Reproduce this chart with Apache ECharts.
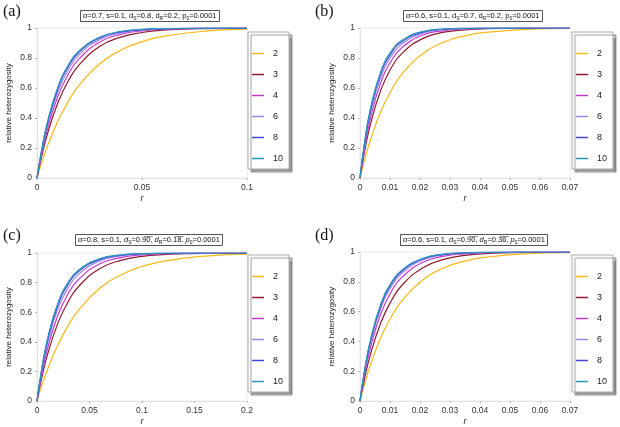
<!DOCTYPE html>
<html>
<head>
<meta charset="utf-8">
<title>relative heterozygosity</title>
<script src="https://cdn.jsdelivr.net/npm/echarts@6/dist/echarts.min.js"></script>
<style>
  html, body { margin: 0; padding: 0; background: #fff; }
  #main { width: 620px; height: 427px; }
</style>
</head>
<body>
<div id="main"></div>
<script>
// legend values of m (one curve each)
var mValues = ['2', '3', '4', '6', '8', '10'];
var mColors = ['#f7b918', '#8c1c30', '#c23ac8', '#9a86ee', '#4446dc', '#2c96b8'];

// sampled r positions for each panel
var rA = [0, 0.002, 0.005, 0.01, 0.015, 0.02, 0.03, 0.04, 0.05, 0.06, 0.08, 0.1];
var rB = [0, 0.0014, 0.0035, 0.007, 0.0105, 0.014, 0.021, 0.028, 0.035, 0.042, 0.056, 0.07];
var rC = [0, 0.004, 0.01, 0.02, 0.03, 0.04, 0.06, 0.08, 0.1, 0.12, 0.16, 0.2];
var rD = [0, 0.0014, 0.0035, 0.007, 0.0105, 0.014, 0.021, 0.028, 0.035, 0.042, 0.056, 0.07];

// relative heterozygosity, one row per m
var hA = [
  [0, 0.092, 0.213, 0.381, 0.513, 0.617, 0.763, 0.853, 0.909, 0.944, 0.979, 0.992],
  [0, 0.131, 0.295, 0.503, 0.650, 0.753, 0.878, 0.939, 0.970, 0.985, 0.996, 0.999],
  [0, 0.146, 0.326, 0.546, 0.694, 0.794, 0.907, 0.958, 0.981, 0.991, 0.998, 1],
  [0, 0.158, 0.349, 0.577, 0.725, 0.821, 0.924, 0.968, 0.986, 0.994, 0.999, 1],
  [0, 0.166, 0.366, 0.597, 0.745, 0.838, 0.935, 0.974, 0.989, 0.996, 0.999, 1],
  [0, 0.171, 0.375, 0.609, 0.756, 0.847, 0.940, 0.977, 0.991, 0.996, 0.999, 1]
];
var hB = [
  [0, 0.111, 0.255, 0.446, 0.587, 0.693, 0.830, 0.906, 0.948, 0.971, 0.991, 0.997],
  [0, 0.163, 0.359, 0.589, 0.737, 0.831, 0.931, 0.972, 0.988, 0.995, 0.999, 1],
  [0, 0.185, 0.400, 0.639, 0.783, 0.870, 0.953, 0.983, 0.994, 0.998, 1, 1],
  [0, 0.201, 0.429, 0.674, 0.814, 0.894, 0.965, 0.989, 0.996, 0.999, 1, 1],
  [0, 0.213, 0.451, 0.699, 0.835, 0.909, 0.973, 0.992, 0.998, 0.999, 1, 1],
  [0, 0.221, 0.465, 0.713, 0.847, 0.918, 0.977, 0.993, 0.998, 0.999, 1, 1]
];
var hC = [
  [0, 0.092, 0.213, 0.381, 0.513, 0.617, 0.763, 0.853, 0.909, 0.944, 0.979, 0.992],
  [0, 0.139, 0.313, 0.528, 0.675, 0.777, 0.895, 0.950, 0.977, 0.989, 0.998, 0.999],
  [0, 0.160, 0.353, 0.581, 0.729, 0.824, 0.927, 0.969, 0.987, 0.995, 0.999, 1],
  [0, 0.178, 0.387, 0.625, 0.770, 0.859, 0.947, 0.980, 0.993, 0.997, 1, 1],
  [0, 0.189, 0.408, 0.650, 0.793, 0.878, 0.957, 0.985, 0.995, 0.998, 1, 1],
  [0, 0.196, 0.420, 0.664, 0.805, 0.887, 0.962, 0.987, 0.996, 0.999, 1, 1]
];
var hD = [
  [0, 0.106, 0.244, 0.429, 0.568, 0.674, 0.814, 0.894, 0.939, 0.965, 0.989, 0.996],
  [0, 0.139, 0.313, 0.528, 0.675, 0.777, 0.895, 0.950, 0.977, 0.989, 0.998, 0.999],
  [0, 0.163, 0.359, 0.589, 0.737, 0.831, 0.931, 0.972, 0.988, 0.995, 0.999, 1],
  [0, 0.178, 0.387, 0.625, 0.770, 0.859, 0.947, 0.980, 0.993, 0.997, 1, 1],
  [0, 0.186, 0.402, 0.643, 0.787, 0.873, 0.955, 0.984, 0.994, 0.998, 1, 1],
  [0, 0.191, 0.411, 0.654, 0.796, 0.880, 0.958, 0.986, 0.995, 0.998, 1, 1]
];

var xMax = [0.1, 0.07, 0.2, 0.07];
var xStep = [0.05, 0.01, 0.05, 0.01];
var rs = [rA, rB, rC, rD];
var hs = [hA, hB, hC, hD];

// layout of the four panels
var grids = [
  { left: 37, top: 28, width: 210, height: 150 },
  { left: 360, top: 28, width: 210, height: 150 },
  { left: 37, top: 253, width: 210, height: 149 },
  { left: 360, top: 252, width: 210, height: 150 }
];
var legendPos = [[248, 32], [572, 32], [248, 255], [572, 255]];
var labelPos = [[3, 4], [315, 4], [3, 228], [315, 228]];
var boxPos = [[80, 10], [403, 10], [75, 234], [400, 234]];
var panelNames = ['(a)', '(b)', '(c)', '(d)'];
var paramTexts = [
  '{g|α}=0.7, s=0.1, d{s|S}=0.8, d{s|R}=0.2, p{s|0}=0.0001',
  '{g|α}=0.6, s=0.1, d{s|S}=0.7, d{s|R}=0.2, p{s|0}=0.0001',
  '{g|α}=0.8, s=0.1, {g|d}{s|S}=0.9\u03050\u0305, {g|d}{s|R}=0.1\u03058\u0305, {g|p}{s|0}=0.0001',
  '{g|α}=0.6, s=0.1, {g|d}{s|S}=0.9\u03050\u0305, {g|d}{s|R}=0.3\u03056\u0305, {g|p}{s|0}=0.0001'
];

var fontSans = 'Liberation Sans, Arial, sans-serif';
var titles = [];
var xAxes = [];
var yAxes = [];
var legends = [];
var series = [];
var graphics = [];

for (var p = 0; p < 4; p++) {
  titles.push({
    text: panelNames[p], left: labelPos[p][0], top: labelPos[p][1], padding: 0,
    textStyle: { fontFamily: 'Liberation Serif, serif', fontSize: 16, fontWeight: 'normal', color: '#111' }
  });
  titles.push({
    text: paramTexts[p], left: boxPos[p][0], top: boxPos[p][1],
    borderColor: '#555', borderWidth: 1, padding: [1, 3, 1, 3],
    textStyle: {
      fontFamily: fontSans, fontSize: 7.5, fontWeight: 'normal', color: '#111', lineHeight: 10,
      rich: {
        g: { fontFamily: fontSans, fontSize: 7.5, fontStyle: 'italic', color: '#111', lineHeight: 10 },
        s: { fontFamily: fontSans, fontSize: 5, color: '#111', verticalAlign: 'bottom', lineHeight: 6 }
      }
    }
  });
  xAxes.push({
    type: 'value', gridIndex: p, min: 0, max: xMax[p], interval: xStep[p],
    name: 'r', nameLocation: 'middle', nameGap: 16,
    nameTextStyle: { fontFamily: fontSans, fontSize: 9, fontStyle: 'italic', color: '#222' },
    axisLine: { show: true, lineStyle: { color: '#e2e2e2' } },
    axisTick: { show: true, length: 2, lineStyle: { color: '#bbb' } },
    axisLabel: {
      fontFamily: fontSans, fontSize: 8.5, color: '#333', margin: 5,
      formatter: function (v) { return String(+v.toFixed(3)); }
    },
    splitLine: { show: false }
  });
  yAxes.push({
    type: 'value', gridIndex: p, min: 0, max: 1, interval: 0.2,
    name: 'relative heterozygosity', nameLocation: 'middle', nameGap: 24,
    nameTextStyle: { fontFamily: fontSans, fontSize: 8, color: '#222' },
    axisLine: { show: true, lineStyle: { color: '#e2e2e2' } },
    axisTick: { show: true, length: 2, lineStyle: { color: '#bbb' } },
    axisLabel: {
      fontFamily: fontSans, fontSize: 8.5, color: '#333', margin: 5,
      formatter: function (v) { return String(+v.toFixed(1)); }
    },
    splitLine: { show: false }
  });
  legends.push({
    orient: 'vertical', left: legendPos[p][0], top: legendPos[p][1],
    data: mValues, icon: 'rect', itemWidth: 12, itemHeight: 1.5, itemGap: 12,
    padding: [17, 6, 6, 4], selectedMode: false,
    backgroundColor: '#fff', borderColor: '#aaa', borderWidth: 1,
    shadowColor: 'rgba(0,0,0,0.4)', shadowOffsetX: 3, shadowOffsetY: 3, shadowBlur: 1,
    textStyle: { fontFamily: fontSans, fontSize: 9, color: '#222', padding: [0, 0, 0, 4] }
  });
  graphics.push({
    type: 'text', left: legendPos[p][0] + 17, top: legendPos[p][1] + 3,
    style: { text: 'm', font: '9px ' + fontSans, fill: '#222' }
  });
  for (var j = 0; j < mValues.length; j++) {
    var pts = [];
    for (var k = 0; k < rs[p].length; k++) pts.push([rs[p][k], hs[p][j][k]]);
    series.push({
      type: 'line', name: mValues[j], xAxisIndex: p, yAxisIndex: p,
      data: pts, smooth: 0.5, showSymbol: false, symbol: 'none',
      color: mColors[j], lineStyle: { width: 1.2 }, animation: false, silent: true
    });
  }
}

var chart = echarts.init(document.getElementById('main'), null, { renderer: 'canvas' });
chart.setOption({
  backgroundColor: '#fff',
  animation: false,
  title: titles,
  grid: grids.map(function (g) {
    return Object.assign({ show: true, borderColor: '#ececec', borderWidth: 1, backgroundColor: 'transparent' }, g);
  }),
  xAxis: xAxes,
  yAxis: yAxes,
  legend: legends,
  series: series,
  graphic: graphics
});
</script>
</body>
</html>
